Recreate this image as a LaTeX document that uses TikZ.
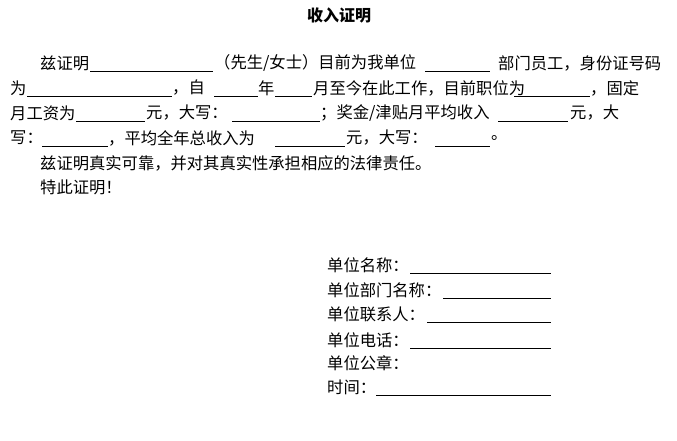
\documentclass[tikz,border=0pt]{standalone}
\usepackage{fontspec}
\newfontfamily\cjk{Noto Sans CJK SC}
\begin{document}
\begin{tikzpicture}[x=1pt,y=-1pt,
  t/.style={anchor=west,inner sep=0pt,font=\cjk\fontsize{16.3}{16}\selectfont},
  ul/.style={line width=0.6pt}]
\useasboundingbox (0,0) rectangle (677,440);
\newcommand\bl[3]{\draw[ul] (#1,#3+8) -- (#2,#3+8);}
\node[inner sep=0pt,font=\cjk\bfseries\fontsize{16}{16}\selectfont] (title) at (339,15) {收入证明};
% line 1
\node[t] (a1) at (40,63) {兹证明}; \bl{90}{213}{63}
\node[t] (a2) at (214,63) {（先生/女士）目前为我单位}; \bl{425}{490}{63}
\node[t] (a3) at (498,63) {部门员工，身份证号码};
% line 2
\node[t] (b1) at (10,88) {为}; \bl{27}{172}{88}
\node[t] (b2) at (172,88) {，自}; \bl{214}{258}{88}
\node[t] (b3) at (258,88) {年}; \bl{275}{312}{88}
\node[t] (b4) at (313,88) {月至今在此工作，目前职位为}; \bl{514}{590}{88}
\node[t] (b5) at (590,88) {，固定};
% line 3
\node[t] (c1) at (10,113) {月工资为}; \bl{76}{145}{113}
\node[t] (c2) at (146,113) {元，大写：}; \bl{232}{320}{113}
\node[t] (c3) at (320,113) {；奖金/津贴月平均收入}; \bl{498}{568}{113}
\node[t] (c4) at (570,113) {元，大};
% line 4
\node[t] (d1) at (10,138) {写：}; \bl{42}{108}{138}
\node[t] (d2) at (108,138) {，平均全年总收入为}; \bl{275}{345}{138}
\node[t] (d3) at (346,138) {元，大写：}; \bl{435}{490}{138}
\node[t] (d4) at (491,138) {。};
% lines 5,6
\node[t] (e1) at (40,163) {兹证明真实可靠，并对其真实性承担相应的法律责任。};
\node[t] (f1) at (40,187) {特此证明！};
% right block
\node[t] (g1) at (327,265) {单位名称：}; \bl{410}{551}{265}
\node[t] (g2) at (327,290) {单位部门名称：}; \bl{443}{551}{290}
\node[t] (g3) at (327,314) {单位联系人：}; \bl{427}{551}{314}
\node[t] (g4) at (327,340) {单位电话：}; \bl{410}{551}{340}
\node[t] (g5) at (327,363) {单位公章：};
\node[t] (g6) at (327,387) {时间：}; \bl{376}{551}{387}
\end{tikzpicture}
\end{document}
